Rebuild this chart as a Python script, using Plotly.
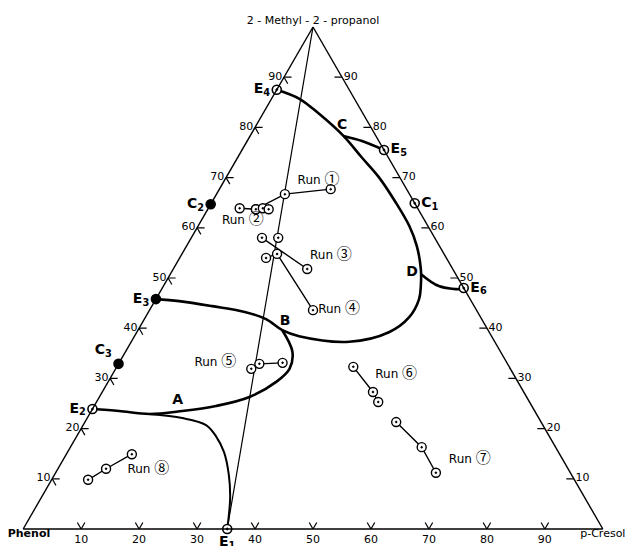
import plotly.graph_objects as go

# compositions in % : alcohol = 2-methyl-2-propanol (top), cresol = p-cresol (right), phenol = rest

# straight line from the alcohol corner to E1
feed_alc = [100, 0]
feed_cre = [0, 35.2]

# binodal curve E3 - B - D - C - E4
bin_alc = [45.8, 45.4, 44.4, 43.2, 41.8, 39.6, 38.4, 37.3, 39.2, 42.2, 45.8, 48.4, 51.8,
           56.4, 60.4, 65.1, 70.1, 74.1, 78.3, 82.7, 85.7, 87.5]
bin_cre = [0, 4.2, 10.4, 16.8, 21.0, 24.9, 28.4, 37.6, 43.5, 45.5, 45.4, 44.4, 42.7,
           39.7, 36.4, 31.7, 26.3, 21.3, 16.1, 9.7, 4.8, 0]

# branch C - E5
ce5_alc = [78.3, 77.3, 75.5]
ce5_cre = [16.1, 19.8, 24.5]

# branch D - E6
de6_alc = [50.8, 48.4, 47.8, 48.0]
de6_cre = [43.2, 47.5, 51.8, 52.0]

# loop B - A - E2
ba_alc = [39.6, 35.3, 31.9, 29.3, 26.3, 24.5, 23.5, 22.9, 23.5, 23.9]
ba_cre = [24.9, 28.8, 30.0, 29.0, 25.9, 21.0, 15.7, 10.3, 4.8, 0]

# branch A - E1
ae1_alc = [22.9, 22.1, 20.7, 18.5, 15.3, 10.6, 6.0, 0]
ae1_cre = [10.3, 16.4, 21.2, 24.0, 27.0, 30.2, 32.7, 35.2]

# special points
pt_names = ["E<sub>1</sub>", "E<sub>2</sub>", "E<sub>3</sub>", "C<sub>3</sub>", "C<sub>2</sub>",
            "E<sub>4</sub>", "E<sub>5</sub>", "C<sub>1</sub>", "E<sub>6</sub>"]
pt_alc = [0, 23.9, 45.8, 32.9, 64.7, 87.5, 75.5, 64.9, 48.0]
pt_cre = [35.2, 0, 0, 0, 0, 0, 24.5, 35.1, 52.0]
pt_filled = [False, False, True, True, True, False, False, False, False]
pt_textpos = ["bottom center", "middle left", "middle left", "top left", "middle left",
              "middle left", "middle right", "middle right", "middle right"]

# experimental runs (tie lines)
run_alc = [[63.7, 66.7, 67.7], [63.9, 63.7, 63.9, 63.7], [58.0, 51.8], [54.0, 54.8, 43.6],
           [31.9, 32.9, 33.1], [32.3, 27.3, 25.3], [21.3, 16.3, 11.2], [9.8, 12.0, 14.9]]
run_cre = [[8.3, 11.8, 19.2], [5.4, 8.3, 9.4, 10.5], [12.2, 23.1], [14.9, 16.4, 28.2],
           [23.4, 24.3, 28.2], [40.8, 46.7, 48.6], [53.7, 60.6, 65.6], [6.3, 8.3, 11.3]]
run3_extra_alc = [58.0]
run3_extra_cre = [15.0]

run_labels = ["①", "②", "③", "④", "⑤", "⑥", "⑦", "⑧"]
run_lab_alc = [69.3, 61.4, 54.4, 43.6, 33.1, 30.7, 13.7, 11.8]
run_lab_cre = [16.3, 7.2, 25.9, 32.7, 16.6, 49.0, 70.2, 15.7]

# region letters
let_text = ["A", "B", "C", "D"]
let_alc = [25.5, 41.4, 80.3, 51.0]
let_cre = [13.9, 24.5, 14.9, 41.6]

# corner names
corner_text = ["2 - Methyl - 2 - propanol", "<b>Phenol</b>", "p-Cresol"]
corner_alc = [100, 0, 0]
corner_cre = [0, 1, 100]
corner_pos = ["top center", "bottom center", "bottom center"]

# tick labels
tick_vals = [10, 20, 30, 40, 50, 60, 70, 80, 90]
tick_text = ["10", "20", "30", "40", "50", "60", "70", "80", "90"]
TL = 1.3  # tick length, % of side


def phenol(alc, cre):
    return [round(100 - x - y, 2) for x, y in zip(alc, cre)]


FONT = "DejaVu Sans"
fig = go.Figure()


def add_line(alc, cre, width, shape="spline"):
    fig.add_trace(go.Scatterternary(a=alc, b=phenol(alc, cre), c=cre, mode="lines",
                                    line=dict(color="black", width=width, shape=shape),
                                    connectgaps=False,
                                    hoverinfo="skip", showlegend=False, cliponaxis=False))


# tick marks, drawn along the composition directions like the original drawing
tk_alc, tk_cre = [], []
for t in tick_vals:
    # left edge: horizontal + along constant phenol
    tk_alc += [t, t, None, t, t - TL, None]
    tk_cre += [0, TL, None, 0, TL, None]
    # right edge: horizontal
    tk_alc += [t, t, None]
    tk_cre += [100 - t, 100 - t - TL, None]
    # bottom edge: V shape
    tk_alc += [0, TL, None, 0, TL, None]
    tk_cre += [t, t, None, t, t - TL, None]
tk_phe = [None if x is None else round(100 - x - y, 2) for x, y in zip(tk_alc, tk_cre)]
fig.add_trace(go.Scatterternary(a=tk_alc, b=tk_phe, c=tk_cre, mode="lines",
                                line=dict(color="black", width=1.2), connectgaps=False,
                                hoverinfo="skip", showlegend=False, cliponaxis=False))

add_line(feed_alc, feed_cre, 1.2, "linear")
add_line(bin_alc, bin_cre, 2.6)
add_line(ce5_alc, ce5_cre, 2.6)
add_line(de6_alc, de6_cre, 2.6)
add_line(ba_alc, ba_cre, 2.6)
add_line(ae1_alc, ae1_cre, 2.0)

# tie lines
for alc, cre in zip(run_alc, run_cre):
    fig.add_trace(go.Scatterternary(a=alc, b=phenol(alc, cre), c=cre, mode="lines+markers",
                                    line=dict(color="black", width=1.4),
                                    marker=dict(symbol="circle-dot", size=9, color="white",
                                                line=dict(color="black", width=1.4)),
                                    hoverinfo="skip", showlegend=False, cliponaxis=False))
fig.add_trace(go.Scatterternary(a=run3_extra_alc, b=phenol(run3_extra_alc, run3_extra_cre),
                                c=run3_extra_cre, mode="markers",
                                marker=dict(symbol="circle-dot", size=9, color="white",
                                            line=dict(color="black", width=1.4)),
                                hoverinfo="skip", showlegend=False, cliponaxis=False))

# special points
fig.add_trace(go.Scatterternary(
    a=pt_alc, b=phenol(pt_alc, pt_cre), c=pt_cre, mode="markers+text",
    text=["<b>%s</b>" % s for s in pt_names], textposition=pt_textpos,
    textfont=dict(family=FONT, size=14, color="black"),
    marker=dict(symbol=["circle" if f else "circle-dot" for f in pt_filled], size=9,
                color=["black" if f else "white" for f in pt_filled],
                line=dict(color="black", width=1.6)),
    hoverinfo="skip", showlegend=False, cliponaxis=False))

run_text = ["Run <span style='font-family:Noto Sans CJK JP;font-size:15px'>%s</span>" % s
            for s in run_labels]
fig.add_trace(go.Scatterternary(a=run_lab_alc, b=phenol(run_lab_alc, run_lab_cre), c=run_lab_cre,
                                mode="text", text=run_text,
                                textfont=dict(family=FONT, size=12, color="black"),
                                hoverinfo="skip", showlegend=False, cliponaxis=False))

fig.add_trace(go.Scatterternary(a=let_alc, b=phenol(let_alc, let_cre), c=let_cre,
                                mode="text", text=["<b>%s</b>" % s for s in let_text],
                                textfont=dict(family=FONT, size=14, color="black"),
                                hoverinfo="skip", showlegend=False, cliponaxis=False))

fig.add_trace(go.Scatterternary(a=corner_alc, b=phenol(corner_alc, corner_cre), c=corner_cre,
                                mode="text", text=corner_text, textposition=corner_pos,
                                textfont=dict(family=FONT, size=11, color="black"),
                                hoverinfo="skip", showlegend=False, cliponaxis=False))

axis_common = dict(showgrid=False, ticks="", linecolor="black", linewidth=1.4, min=0,
                   title=dict(text=""),
                   tickfont=dict(family=FONT, size=11, color="black"))

fig.update_layout(
    width=638, height=546,
    margin=dict(l=15, r=43, t=19, b=25),
    paper_bgcolor="white",
    ternary=dict(
        sum=100, bgcolor="white",
        aaxis=dict(tickvals=tick_vals, ticktext=tick_text, **axis_common),
        baxis=dict(tickvals=tick_vals[::-1], ticktext=tick_text, **axis_common),
        caxis=dict(tickvals=tick_vals[::-1], ticktext=tick_text, **axis_common),
    ),
)

fig.write_html("out.html")
